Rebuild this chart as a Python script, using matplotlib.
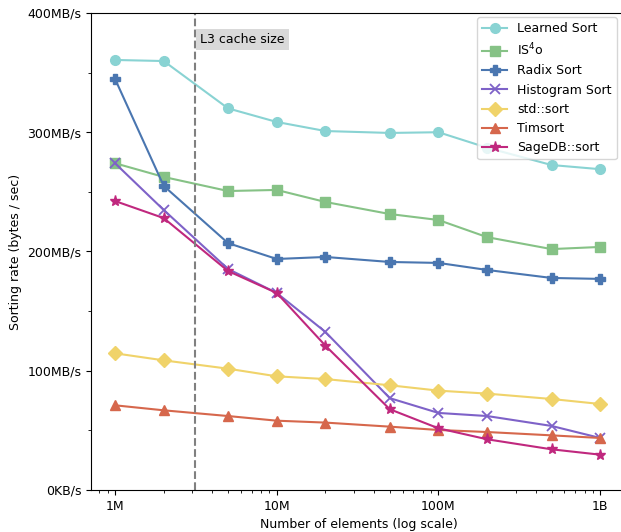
import matplotlib.pyplot as plt
from matplotlib.ticker import FixedLocator, FuncFormatter, MultipleLocator

# number of elements
sizes = [1e6, 2e6, 5e6, 1e7, 2e7, 5e7, 1e8, 2e8, 5e8, 1e9]

# sorting rate in MB/s
learned = [360.6, 359.7, 320.0, 308.6, 301.0, 299.4, 300.0, 287.0, 272.5, 269.0]
is4o = [274.0, 262.5, 250.7, 251.6, 241.5, 231.4, 226.4, 212.0, 202.0, 203.8]
radix = [344.7, 255.0, 207.0, 193.7, 195.4, 191.2, 190.4, 184.5, 177.8, 177.0]
histogram = [274.0, 234.8, 185.3, 165.2, 132.5, 77.0, 64.6, 62.0, 53.7, 43.6]
std_sort = [114.6, 108.7, 101.7, 95.3, 93.0, 87.8, 83.3, 80.8, 76.3, 72.1]
timsort = [71.0, 66.8, 62.0, 58.1, 56.5, 53.1, 50.3, 48.6, 45.8, 43.6]
sagedb = [242.3, 228.0, 183.6, 165.2, 121.0, 67.7, 51.7, 42.5, 34.1, 29.6]

l3_elements = 3.14e6

series = [
    ("Learned Sort", learned, "o", "#89d3d3"),
    ("IS$^4$o", is4o, "s", "#86c286"),
    ("Radix Sort", radix, "P", "#4a76b0"),
    ("Histogram Sort", histogram, "x", "#7e62c8"),
    ("std::sort", std_sort, "D", "#f0d36a"),
    ("Timsort", timsort, "^", "#d6674c"),
    ("SageDB::sort", sagedb, "*", "#c0287e"),
]

fig = plt.figure(figsize=(6.21, 5.32), dpi=100)
ax = fig.add_axes([0.1465, 0.079, 0.862, 0.8966])

for name, vals, m, c in series:
    ms = 8 if m == "*" else 7
    ax.plot(sizes, vals, marker=m, color=c, label=name, markersize=ms,
            linewidth=1.5, markeredgewidth=1.3 if m == "x" else 1)

ax.axvline(l3_elements, color="gray", linestyle="--", linewidth=1.5)
ax.text(l3_elements * 1.07, 378, "L3 cache size", fontsize=9, va="center",
        bbox=dict(facecolor="#d9d9d9", edgecolor="none", pad=3))

ax.set_xscale("log")
ax.set_xlim(0.71e6, 1.45e9)
ax.xaxis.set_major_locator(FixedLocator([1e6, 1e7, 1e8, 1e9]))
ax.set_xticklabels(["1M", "10M", "100M", "1B"])

ax.set_ylim(0, 400)
ax.yaxis.set_major_locator(MultipleLocator(100))
ax.yaxis.set_minor_locator(MultipleLocator(50))
ax.yaxis.set_major_formatter(FuncFormatter(lambda v, p: "0KB/s" if v == 0 else f"{int(v)}MB/s"))

ax.tick_params(labelsize=9)
ax.set_xlabel("Number of elements (log scale)", fontsize=9)
ax.set_ylabel("Sorting rate (bytes / sec)", fontsize=9)

ax.legend(loc="upper right", bbox_to_anchor=(0.994, 1.004), fontsize=9)

plt.savefig("out.png", dpi=100)
